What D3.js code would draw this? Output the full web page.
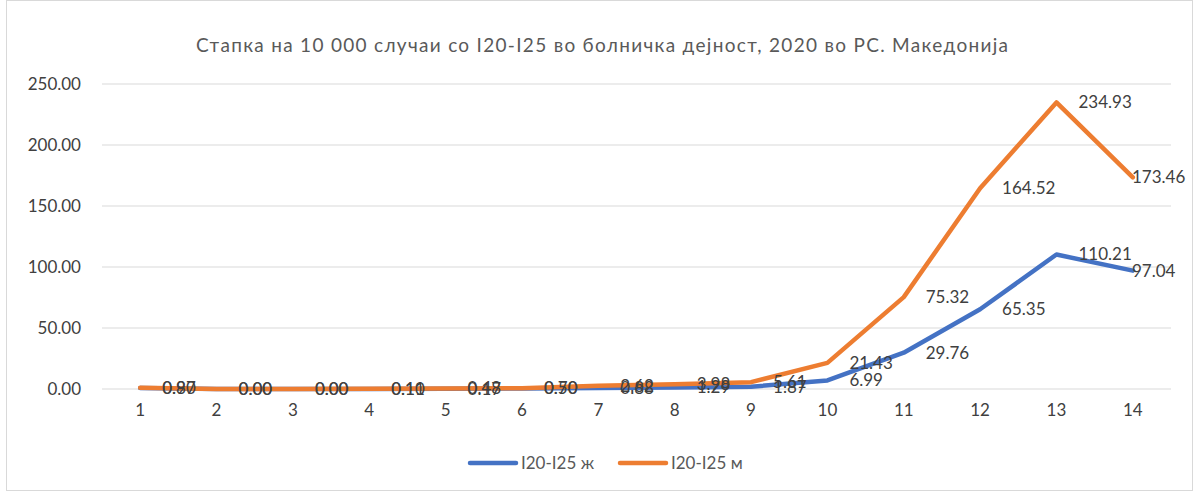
<!DOCTYPE html>
<html><head><meta charset="utf-8">
<script src="https://cdn.jsdelivr.net/npm/d3@7/dist/d3.min.js"></script>
<style>body{margin:0;background:#fff;}svg{display:block;font-family:Lato,"Open Sans",sans-serif;}</style>
</head><body><svg id="c" width="1198" height="492"></svg>
<script>
const title = "Стапка на 10 000 случаи со I20-I25 во болничка дејност, 2020 во РС. Македонија";
const categories = ["1","2","3","4","5","6","7","8","9","10","11","12","13","14"];
const seriesNames = ["I20-I25 ж","I20-I25 м"];
const femaleValues = [0.80,0.00,0.00,0.10,0.17,0.50,0.88,1.29,1.87,6.99,29.76,65.35,110.21,97.04];
const maleValues = [0.97,0.00,0.00,0.11,0.48,0.70,2.62,3.98,5.61,21.43,75.32,164.52,234.93,173.46];
const yTicks = [0,50,100,150,200,250];
const colors = ["#4472C4","#ED7D31"];

const svg = d3.select("#c");
svg.append("rect").attr("x",6.5).attr("y",0.5).attr("width",1186).attr("height",490)
  .attr("fill","#fff").attr("stroke","#d9d9d9");

const x = d3.scaleBand().domain(categories).range([102,1171]);
const y = d3.scaleLinear().domain([0,250]).range([389,84]);

svg.append("text").attr("x",602).attr("y",52).attr("text-anchor","middle")
  .attr("font-size",19).attr("fill","#595959")
  .attr("textLength",812).attr("lengthAdjust","spacing").text(title);

svg.append("g").selectAll("line").data(yTicks).join("line")
  .attr("x1",102).attr("x2",1171).attr("y1",d=>y(d)).attr("y2",d=>y(d))
  .attr("stroke","#d9d9d9").attr("stroke-width",1);

const yAxis = svg.append("g").attr("transform","translate(102,0)")
  .call(d3.axisLeft(y).tickValues(yTicks).tickFormat(d3.format(".2f")).tickSize(0).tickPadding(21));
yAxis.select(".domain").remove();
yAxis.selectAll("text").attr("font-size",17).attr("fill","#404040").attr("font-family","Lato,'Open Sans',sans-serif");

const xAxis = svg.append("g").attr("transform","translate(0,389)")
  .call(d3.axisBottom(x).tickSize(0).tickPadding(15));
xAxis.select(".domain").remove();
xAxis.selectAll("text").attr("font-size",17).attr("fill","#404040").attr("font-family","Lato,'Open Sans',sans-serif");

const cx = d => x(d) + x.bandwidth()/2;
const series = [femaleValues, maleValues];
const line = d3.line().x((d,i)=>cx(categories[i])).y(d=>y(d));

series.forEach((vals,si)=>{
  svg.append("path").datum(vals).attr("d",line).attr("fill","none")
    .attr("stroke",colors[si]).attr("stroke-width",4.5)
    .attr("stroke-linejoin","round").attr("stroke-linecap","round");
});
series.forEach((vals,si)=>{
  svg.append("g").selectAll("text").data(vals).join("text")
    .attr("x",(d,i)=>Math.min(cx(categories[i])+22, 1190-58))
    .attr("y",d=>y(d)).attr("dy","0.35em")
    .attr("font-size",17).attr("fill","#404040").text(d=>d.toFixed(2));
});

const leg = svg.append("g");
const legItems = [{x:468},{x:618}];
legItems.forEach((it,i)=>{
  leg.append("line").attr("x1",it.x+2).attr("x2",it.x+48).attr("y1",463).attr("y2",463)
    .attr("stroke",colors[i]).attr("stroke-width",4.5).attr("stroke-linecap","round");
  leg.append("text").attr("x",it.x+53).attr("y",463).attr("dy","0.35em")
    .attr("font-size",17).attr("fill","#595959").text(seriesNames[i]);
});
</script></body></html>
